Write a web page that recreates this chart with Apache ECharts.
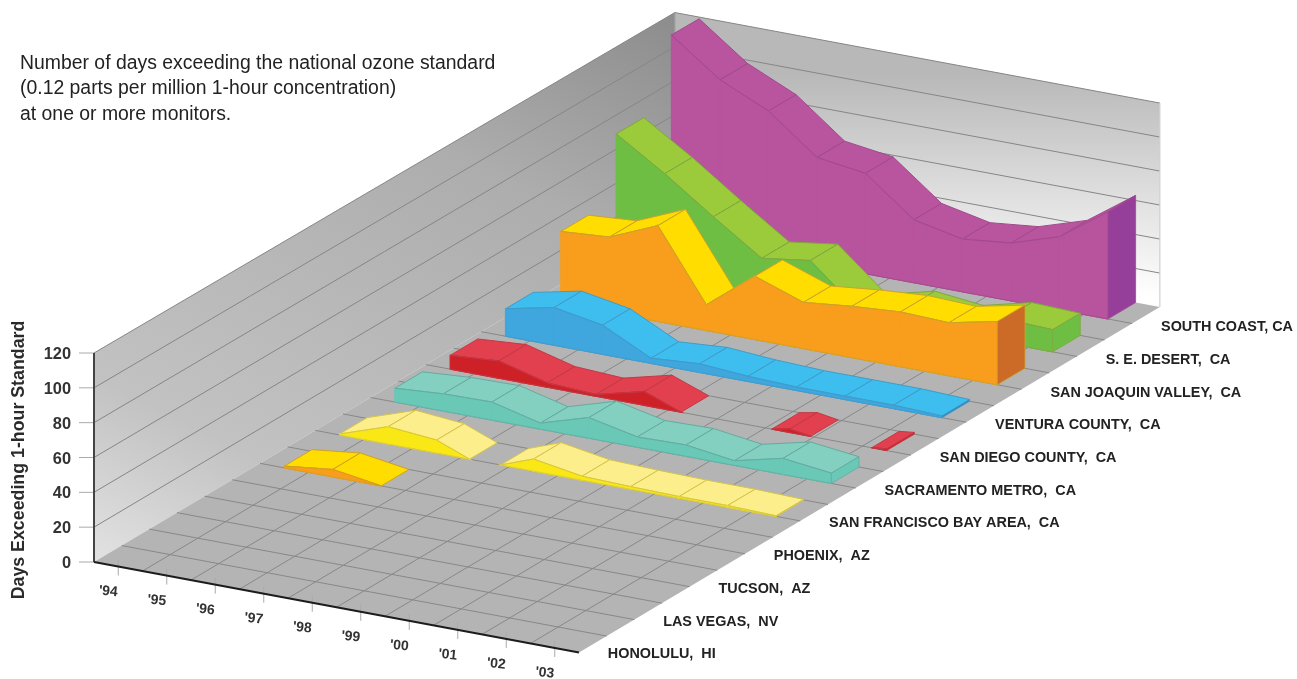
<!DOCTYPE html>
<html><head><meta charset="utf-8">
<style>html,body{margin:0;padding:0;background:#fff}#c{width:1297px;height:679px}</style>
<script src="https://cdn.jsdelivr.net/npm/echarts@6/dist/echarts.min.js"></script>
</head><body><div id="c"></div>
<script>
const years = ["'94","'95","'96","'97","'98","'99","'00","'01","'02","'03"];
const dayTicks = [0,20,40,60,80,100,120];
const regions = ["HONOLULU,  HI","LAS VEGAS,  NV","TUCSON,  AZ","PHOENIX,  AZ","SAN FRANCISCO BAY AREA,  CA","SACRAMENTO METRO,  CA","SAN DIEGO COUNTY,  CA","VENTURA COUNTY,  CA","SAN JOAQUIN VALLEY,  CA","S. E. DESERT,  CA","SOUTH COAST, CA"];
const noteLines = ["Number of days exceeding the national ozone standard","(0.12 parts per million 1-hour concentration)","at one or more monitors."];
const yTitle = "Days Exceeding 1-hour Standard";

// year position (0 = '94) and days; null splits a region into separate pieces
const southCoastYears = [0,1,2,3,4,5,6,7,8,9];
const southCoastDays  = [119,98,85,63,59,37,31,34,43,63];
const seDesertYears   = [0,1,2,3,4,5,6,7,8,9];
const seDesertDays    = [80,62,42,23,27,3,10,7,14,13];
const sanJoaquinYears = [0,1,2,3,4,5,6,7,8,9];
const sanJoaquinDays  = [42,44,56,15,37,27,30,32,31,37];
const venturaYears    = [0,1,2,3,4,5,6,7,8,9];
const venturaDays     = [16,22,17,3,5,3,2,2,2,1];
const sanDiegoYears   = [0,1,2,3,4,4.76,null,6.63,7,7.43,null,8.69,9];
const sanDiegoDays    = [8,10,2.5,1,8,0,null,0,2,0,null,0,1];
const sacramentoYears = [0,1,2,3,4,5,6,7,8,9];
const sacramentoDays  = [8,10,10.5,3.5,12,6,6.6,2.7,9.3,6];
const sanFranYears    = [0,1,2,2.68,null,3.32,4,5,6,7,8,9];
const sanFranDays     = [0.5,10,7.5,0,null,0,7,2.3,1.5,1,1,0.3];
const phoenixYears    = [0,1,2];
const phoenixDays     = [1,4.3,0];

const ribbons = [
 {name:"SOUTH COAST, CA", row:10, xs:southCoastYears, ys:southCoastDays, top:'#B9549E', front:'#B8539E', side:'#953F9B', edge:'#A04A8C'},
 {name:"S. E. DESERT, CA", row:9, xs:seDesertYears, ys:seDesertDays, top:'#9BCB3B', front:'#6FBE44', side:'#6FBE44', edge:'#7FA83F'},
 {name:"SAN JOAQUIN VALLEY, CA", row:8, xs:sanJoaquinYears, ys:sanJoaquinDays, top:'#FFDD00', front:'#F99D1C', side:'#CC6B27', edge:'#C9A428'},
 {name:"VENTURA COUNTY, CA", row:7, xs:venturaYears, ys:venturaDays, top:'#3DBEEE', front:'#3FA6DE', side:'#2F80C0', edge:'#3F9CC8'},
 {name:"SAN DIEGO COUNTY, CA", row:6, xs:sanDiegoYears, ys:sanDiegoDays, top:'#E23F4F', front:'#CE2127', side:'#CE2127', edge:'#C23A46'},
 {name:"SACRAMENTO METRO, CA", row:5, xs:sacramentoYears, ys:sacramentoDays, top:'#83D0C0', front:'#69C8B6', side:'#69C8B6', edge:'#66AAA0'},
 {name:"SAN FRANCISCO BAY AREA, CA", row:4, xs:sanFranYears, ys:sanFranDays, top:'#FCEE8A', front:'#F9E816', side:'#F9E816', edge:'#D6C44A'},
 {name:"PHOENIX, AZ", row:3, xs:phoenixYears, ys:phoenixDays, top:'#FFDD00', front:'#F99D1C', side:'#F99D1C', edge:'#D0A21E'}
];

// oblique projection of the chart box into the pixel-valued axes
const origin=[94,562], uStep=[48.5,9.05], vStep=[27.66,-16.45];
const FRONT_H=209, BACK_H=204, MAX_DAY=120, U_CELLS=10, V_CELLS=21;
function proj(u,v,d){
  const h=(FRONT_H+(BACK_H-FRONT_H)*v/V_CELLS)/MAX_DAY;
  return [origin[0]+u*uStep[0]+v*vStep[0], origin[1]+u*uStep[1]+v*vStep[1]-d*h];
}
const FONT='"Liberation Sans",Arial,sans-serif';

function poly(api,pts,style){return {type:'polygon',shape:{points:pts.map(p=>api.coord(p))},style};}
function line(api,a,b,stroke,w){const A=api.coord(a),B=api.coord(b);return {type:'line',shape:{x1:A[0],y1:A[1],x2:B[0],y2:B[1]},style:{stroke,lineWidth:w,fill:null}};}
function txt(api,p,text,font,fill,align,vert,rot){const P=api.coord(p);return {type:'text',x:P[0],y:P[1],rotation:rot||0,style:{x:0,y:0,text,font,fill,align,verticalAlign:vert,textAlign:align,textVerticalAlign:vert}};}

function renderBox(params,api){
  const c=[];
  const wallGrad=new echarts.graphic.LinearGradient(94,562,430,-110,[{offset:0,color:'#e2e2e2'},{offset:.22,color:'#c2c2c2'},{offset:.7,color:'#adadad'},{offset:1,color:'#8c8c8c'}],true);
  c.push(poly(api,[proj(0,0,0),proj(0,0,MAX_DAY),proj(0,V_CELLS,MAX_DAY),proj(0,V_CELLS,0)],{fill:wallGrad}));
  const bT=api.coord(proj(U_CELLS,V_CELLS,MAX_DAY)),bB=api.coord(proj(U_CELLS,V_CELLS,0));
  const backGrad=new echarts.graphic.LinearGradient(0,bT[1]-30,0,bB[1]-10,[{offset:0,color:'#b8b8b8'},{offset:1,color:'#ffffff'}],true);
  c.push(poly(api,[proj(0,V_CELLS,0),proj(0,V_CELLS,MAX_DAY),proj(U_CELLS,V_CELLS,MAX_DAY),proj(U_CELLS,V_CELLS,0)],{fill:backGrad}));
  c.push(poly(api,[proj(0,0,0),proj(U_CELLS,0,0),proj(U_CELLS,V_CELLS,0),proj(0,V_CELLS,0)],{fill:'#b4b4b4'}));
  for(let u=1;u<U_CELLS;u++)c.push(line(api,proj(u,0,0),proj(u,V_CELLS,0),'#888888',1));
  for(let v=1;v<V_CELLS;v++)c.push(line(api,proj(0,v,0),proj(U_CELLS,v,0),'#888888',1));
  dayTicks.forEach(d=>{ if(d===0)return;
    c.push(line(api,proj(0,0,d),proj(0,V_CELLS,d),'#868686',1));
    c.push(line(api,proj(0,V_CELLS,d),proj(U_CELLS,V_CELLS,d),'#868686',1));
  });
  c.push(line(api,proj(U_CELLS,V_CELLS,0),proj(U_CELLS,V_CELLS,MAX_DAY),'#cfcfcf',1.2));
  c.push(line(api,proj(0,V_CELLS,0),proj(0,V_CELLS,MAX_DAY),'#9a9a9a',1));
  // value axis
  dayTicks.forEach(d=>{
    const p=proj(0,0,d);
    c.push(line(api,[p[0]-15,p[1]],p,'#aaaaaa',1));
    c.push(txt(api,[p[0]-23,p[1]+1.5],String(d),'bold 16.4px '+FONT,'#333333','right','middle'));
  });
  c.push(line(api,proj(0,0,0),proj(0,0,MAX_DAY),'#444444',2));
  // year axis
  years.forEach((y,i)=>{
    const p=proj(i+.5,0,0);
    c.push(line(api,[p[0],p[1]-7],[p[0],p[1]+9],'#aaaaaa',1));
    c.push(txt(api,[p[0]-10,p[1]+25],y,'bold 14px '+FONT,'#333333','center','middle',-0.1));
  });
  c.push(line(api,proj(0,0,0),proj(U_CELLS,0,0),'#1c1c1c',2));
  // region labels, two floor cells apart along the right edge
  regions.forEach((r,i)=>{
    const p=proj(U_CELLS,2*i+.5,0);
    c.push(txt(api,[p[0]+15,p[1]+10+i*.2],r,'bold 14.4px '+FONT,'#222222','left','middle'));
  });
  // note and axis title
  noteLines.forEach((t,i)=>c.push(txt(api,[20,63.5+i*25.5],t,'19.4px '+FONT,'#222222','left','middle')));
  c.push(txt(api,[19,460],yTitle,'bold 17.8px '+FONT,'#2b2b2b','center','middle',Math.PI/2));
  return {type:'group',children:c};
}

function ribbonSegments(r){
  const out=[];
  for(let i=0;i<r.xs.length-1;i++){
    if(r.xs[i]===null||r.xs[i+1]===null)continue;
    const last=(i+2>=r.xs.length)||r.xs[i+2]===null;
    out.push([r.xs[i],r.ys[i],r.xs[i+1],r.ys[i+1],last?1:0]);
  }
  return out;
}
function renderRibbon(r){
  const v=2*r.row;
  return function(params,api){
    const u0=api.value(0)+.5,d0=api.value(1),u1=api.value(2)+.5,d1=api.value(3),last=api.value(4);
    const c=[];
    c.push(poly(api,[proj(u0,v,d0),proj(u1,v,d1),proj(u1,v+1,d1),proj(u0,v+1,d0)],{fill:r.top,stroke:r.edge,lineWidth:1,lineJoin:'round'}));
    c.push(poly(api,[proj(u0,v,0),proj(u1,v,0),proj(u1,v,d1),proj(u0,v,d0)],{fill:r.front,stroke:r.front,lineWidth:1.2}));
    c.push(line(api,proj(u0,v,d0),proj(u1,v,d1),r.edge,1));
    c.push(line(api,proj(u0,v,0),proj(u1,v,0),r.edge,.8));
    if(last&&d1>0){
      c.push(poly(api,[proj(u1,v,0),proj(u1,v+1,0),proj(u1,v+1,d1),proj(u1,v,d1)],{fill:r.side,stroke:r.edge,lineWidth:.8}));
    }
    return {type:'group',children:c};
  };
}

const series=[{type:'custom',name:'box',coordinateSystem:'cartesian2d',silent:true,clip:false,data:[[0,0]],renderItem:renderBox}];
ribbons.forEach(r=>series.push({type:'custom',name:r.name,coordinateSystem:'cartesian2d',silent:true,clip:false,
  encode:{x:[0,2],y:[1,3]},data:ribbonSegments(r),renderItem:renderRibbon(r)}));

const chart=echarts.init(document.getElementById('c'),null,{renderer:'canvas',width:1297,height:679});
chart.setOption({
  animation:false,backgroundColor:'#fff',
  grid:{left:0,right:0,top:0,bottom:0},
  xAxis:{type:'value',min:0,max:1297,show:false},
  yAxis:{type:'value',min:0,max:679,inverse:true,show:false},
  series
});
</script></body></html>
